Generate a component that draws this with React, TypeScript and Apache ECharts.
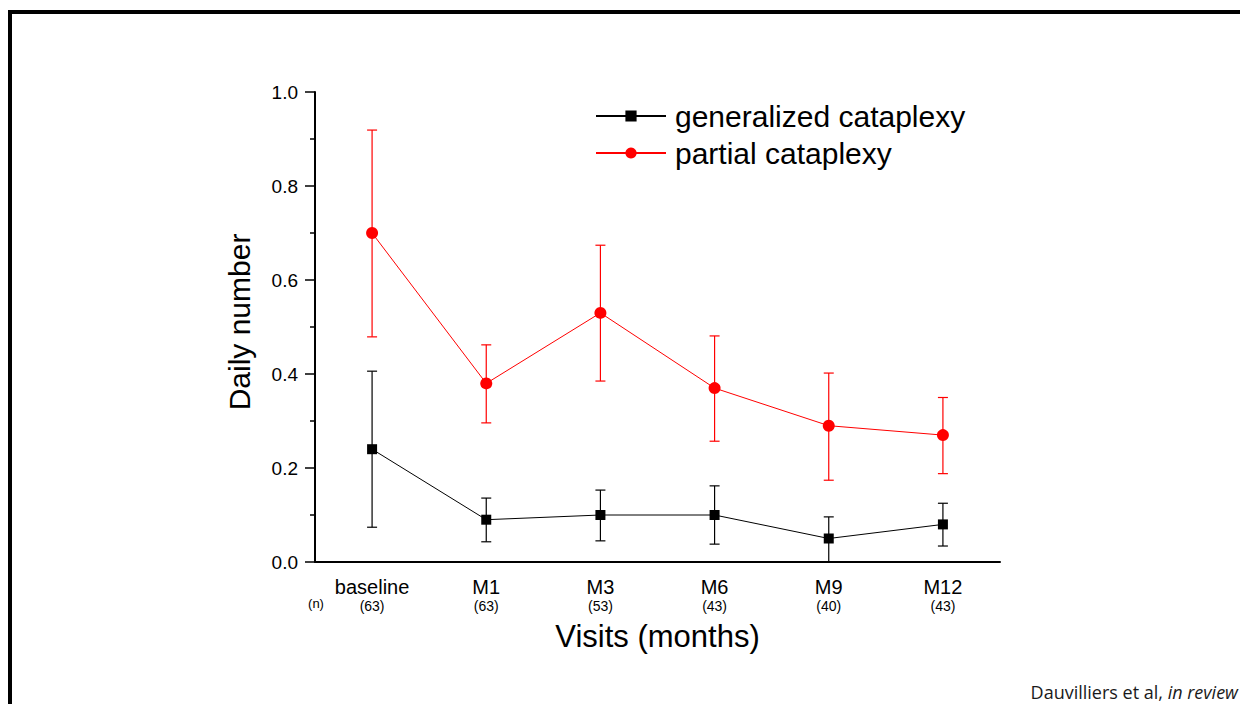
import React, { useEffect, useRef } from "react";
import * as echarts from "echarts";

const categories = ["baseline", "M1", "M3", "M6", "M9", "M12"];
const nValues = [63, 63, 53, 43, 40, 43];
const generalizedMean = [0.24, 0.09, 0.1, 0.1, 0.05, 0.08];
const generalizedLow = [0.074, 0.043, 0.045, 0.038, 0.0, 0.034];
const generalizedHigh = [0.406, 0.136, 0.153, 0.162, 0.096, 0.125];
const partialMean = [0.7, 0.38, 0.53, 0.37, 0.29, 0.27];
const partialLow = [0.479, 0.296, 0.385, 0.257, 0.174, 0.188];
const partialHigh = [0.919, 0.462, 0.674, 0.481, 0.402, 0.35];

const FONT = "Liberation Sans, Arial, sans-serif";

function errorSeries(name: string, low: number[], high: number[], color: string) {
  return {
    type: "custom",
    name: name + "-err",
    z: 1,
    silent: true,
    data: low.map((l, i) => [i, l, high[i]]),
    renderItem: (params: any, api: any) => {
      const p1 = api.coord([api.value(0), api.value(1)]);
      const p2 = api.coord([api.value(0), api.value(2)]);
      const hw = 5;
      const style = { stroke: color, lineWidth: 1.2 };
      return {
        type: "group",
        children: [
          { type: "line", shape: { x1: p1[0], y1: p1[1], x2: p2[0], y2: p2[1] }, style },
          { type: "line", shape: { x1: p1[0] - hw, y1: p1[1], x2: p1[0] + hw, y2: p1[1] }, style },
          { type: "line", shape: { x1: p2[0] - hw, y1: p2[1], x2: p2[0] + hw, y2: p2[1] }, style },
        ],
      };
    },
  };
}

export default function App() {
  const ref = useRef<HTMLDivElement>(null);
  useEffect(() => {
    if (!ref.current) return;
    const chart = echarts.init(ref.current, undefined, { renderer: "svg" });
    chart.setOption({
      animation: false,
      backgroundColor: "#ffffff",
      grid: { left: 315, right: 240, top: 92, bottom: 142 },
      legend: {
        orient: "vertical",
        left: 595,
        top: 101,
        padding: 0,
        itemWidth: 70,
        itemHeight: 14,
        itemGap: 7,
        textStyle: { fontFamily: FONT, fontSize: 30, color: "#000", lineHeight: 30, padding: [0, 0, 0, 4] },
        data: ["generalized cataplexy", "partial cataplexy"],
      },
      xAxis: {
        type: "category",
        data: categories,
        boundaryGap: true,
        name: "Visits (months)",
        nameLocation: "middle",
        nameGap: 59,
        nameTextStyle: { fontFamily: FONT, fontSize: 31, color: "#000" },
        axisLine: { lineStyle: { color: "#000", width: 2 } },
        axisTick: { alignWithLabel: true, length: 8, lineStyle: { color: "#000", width: 2 } },
        axisLabel: {
          margin: 14,
          formatter: (v: string, i: number) => `{a|${v}}\n{b|(${nValues[i]})}`,
          rich: {
            a: { fontFamily: FONT, fontSize: 20, color: "#000", lineHeight: 22 },
            b: { fontFamily: FONT, fontSize: 14, color: "#000", lineHeight: 16 },
          },
        },
      },
      yAxis: {
        type: "value",
        min: 0,
        max: 1,
        interval: 0.2,
        name: "Daily number",
        nameLocation: "middle",
        nameGap: 61,
        nameTextStyle: { fontFamily: FONT, fontSize: 30, color: "#000", padding: [0, 0, 0, 10] },
        axisLine: { show: true, lineStyle: { color: "#000", width: 2 } },
        axisTick: { show: true, length: 10, lineStyle: { color: "#000", width: 1.5 } },
        minorTick: { show: true, splitNumber: 2, length: 5, lineStyle: { color: "#000", width: 1.5 } },
        splitLine: { show: false },
        axisLabel: {
          margin: 17,
          fontFamily: FONT,
          fontSize: 19,
          color: "#000",
          formatter: (v: number) => v.toFixed(1),
        },
      },
      graphic: [
        { type: "rect", shape: { x: 8, y: 10, width: 1232, height: 4 }, style: { fill: "#000" } },
        { type: "rect", shape: { x: 8, y: 10, width: 4, height: 694 }, style: { fill: "#000" } },
        {
          type: "text",
          x: 316,
          y: 603,
          style: { text: "(n)", fontFamily: FONT, fontSize: 13, fill: "#000", align: "center", verticalAlign: "middle" },
        },
        {
          type: "text",
          x: 1238,
          y: 692,
          style: {
            text: "{n|Dauvilliers et al, }{i|in review}",
            align: "right",
            verticalAlign: "middle",
            rich: {
              n: { fontFamily: "Open Sans, sans-serif", fontSize: 18, fill: "#1a1a1a" },
              i: { fontFamily: "Open Sans, sans-serif", fontSize: 18, fontStyle: "italic", fill: "#1a1a1a" },
            },
          },
        },
      ],
      series: [
        errorSeries("generalized", generalizedLow, generalizedHigh, "#000"),
        errorSeries("partial", partialLow, partialHigh, "#ff0000"),
        {
          type: "line",
          name: "generalized cataplexy",
          data: generalizedMean,
          z: 3,
          symbol: "rect",
          symbolSize: 10,
          itemStyle: { color: "#000" },
          lineStyle: { color: "#000", width: 1 },
        },
        {
          type: "line",
          name: "partial cataplexy",
          data: partialMean,
          z: 3,
          symbol: "circle",
          symbolSize: 12,
          itemStyle: { color: "#ff0000" },
          lineStyle: { color: "#ff0000", width: 1 },
        },
      ],
    });
    return () => chart.dispose();
  }, []);
  return (
    <div
      ref={ref}
      style={{ position: "absolute", left: 0, top: 0, width: 1240, height: 704 }}
    />
  );
}
